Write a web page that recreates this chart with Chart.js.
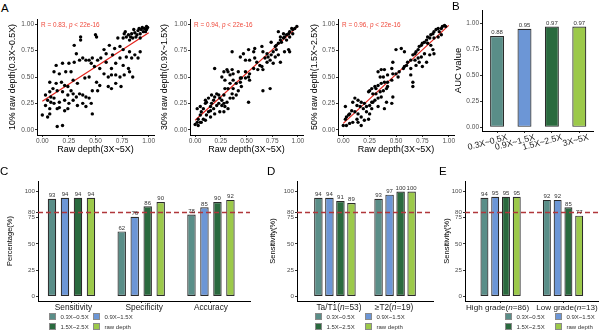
<!DOCTYPE html>
<html>
<head>
<meta charset="utf-8">
<script src="https://cdn.jsdelivr.net/npm/chart.js@4.4.1/dist/chart.umd.min.js"></script>
<style>
  body { margin: 0; background: #fff; }
  #fig { position: relative; width: 600px; height: 335px; overflow: hidden; font-family: 'Liberation Sans', Arial, sans-serif; }
  #fig canvas { position: absolute; }
  .tag { position: absolute; font-size: 11.5px; line-height: 12px; color: #000; }
  .key { position: absolute; display: flex; align-items: center; height: 7px; font-size: 6px; color: #333; white-space: nowrap; }
  .key i { display: inline-block; width: 7px; height: 7px; box-sizing: border-box; border: 0.6px solid #8a8a8a; margin-right: 4.5px; }
</style>
</head>
<body>
<div id="fig"></div>
<script>
const FONT = "'Liberation Sans', Arial, sans-serif";
Chart.defaults.font.family = FONT;

// A: subsampled depth vs raw depth (3X~5X), [raw, subsampled]
const depth10 = [
  [0.98,0.98],[0.96,0.96],[0.93,0.95],[0.90,0.94],[0.87,0.92],[0.84,0.91],[0.81,0.90],[0.77,0.91],
  [0.92,0.91],[0.95,0.93],[0.88,0.88],[0.85,0.87],[0.82,0.85],[0.92,0.87],[0.98,0.95],[0.79,0.88],
  [0.76,0.87],[0.71,0.87],[0.73,0.79],[0.68,0.77],[0.76,0.76],[0.82,0.74],[0.87,0.71],[0.90,0.68],
  [0.92,0.74],[0.84,0.68],[0.79,0.69],[0.63,0.80],[0.58,0.76],[0.60,0.72],[0.66,0.71],[0.73,0.68],
  [0.69,0.63],[0.76,0.61],[0.81,0.58],[0.65,0.58],[0.60,0.64],[0.55,0.68],[0.52,0.66],[0.47,0.68],
  [0.44,0.66],[0.41,0.66],[0.38,0.68],[0.35,0.66],[0.46,0.63],[0.49,0.60],[0.54,0.58],[0.58,0.53],
  [0.62,0.50],[0.65,0.52],[0.69,0.52],[0.73,0.50],[0.77,0.52],[0.82,0.55],[0.85,0.50],[0.30,0.80],
  [0.36,0.88],[0.36,0.85],[0.32,0.72],[0.30,0.64],[0.25,0.63],[0.19,0.63],[0.13,0.61],[0.11,0.55],
  [0.27,0.55],[0.22,0.55],[0.16,0.53],[0.29,0.47],[0.33,0.44],[0.40,0.49],[0.44,0.50],[0.51,0.45],
  [0.54,0.42],[0.52,0.37],[0.47,0.37],[0.62,0.41],[0.65,0.39],[0.74,0.41],[0.69,0.44],[0.07,0.45],
  [0.13,0.44],[0.18,0.45],[0.21,0.42],[0.24,0.41],[0.27,0.37],[0.29,0.34],[0.32,0.31],[0.35,0.34],
  [0.38,0.33],[0.41,0.31],[0.44,0.30],[0.24,0.33],[0.19,0.36],[0.14,0.37],[0.10,0.39],[0.07,0.36],
  [0.03,0.33],[0.05,0.28],[0.08,0.31],[0.11,0.30],[0.16,0.26],[0.21,0.28],[0.25,0.25],[0.29,0.28],
  [0.33,0.23],[0.38,0.25],[0.41,0.22],[0.46,0.25],[0.47,0.15],[0.08,0.26],[0.03,0.23],[0.07,0.20],
  [0.11,0.25],[0.14,0.20],[0.16,0.21],[0.21,0.18],[0.24,0.20],[0.07,0.15],[0.05,0.12],[0.00,0.14],
  [0.14,0.03],[0.19,0.04],[0.97,0.93],[0.99,0.97],[0.94,0.97],[0.89,0.90],[0.91,0.96],[0.86,0.95],
  [0.83,0.88],[0.78,0.93],[0.50,0.90],[0.51,0.88]
];
const depth30 = [
  [0.99,0.98],[0.97,0.96],[0.95,0.95],[0.92,0.93],[0.94,0.96],[0.91,0.91],[0.89,0.90],[0.87,0.88],
  [0.86,0.87],[0.83,0.85],[0.84,0.83],[0.81,0.82],[0.79,0.80],[0.89,0.85],[0.92,0.88],[0.95,0.91],
  [0.86,0.91],[0.83,0.88],[0.91,0.76],[0.87,0.74],[0.92,0.74],[0.79,0.76],[0.76,0.74],[0.74,0.71],
  [0.71,0.69],[0.68,0.68],[0.70,0.64],[0.73,0.66],[0.78,0.69],[0.81,0.71],[0.83,0.64],[0.76,0.63],
  [0.66,0.74],[0.65,0.79],[0.58,0.77],[0.52,0.76],[0.57,0.74],[0.47,0.72],[0.44,0.69],[0.49,0.66],
  [0.53,0.66],[0.60,0.64],[0.63,0.61],[0.65,0.60],[0.61,0.57],[0.57,0.58],[0.53,0.53],[0.52,0.50],
  [0.53,0.47],[0.49,0.49],[0.45,0.49],[0.44,0.45],[0.40,0.44],[0.37,0.47],[0.34,0.52],[0.32,0.55],
  [0.36,0.57],[0.37,0.53],[0.31,0.57],[0.28,0.55],[0.26,0.50],[0.29,0.47],[0.34,0.44],[0.37,0.39],
  [0.32,0.39],[0.29,0.39],[0.36,0.34],[0.42,0.37],[0.45,0.41],[0.37,0.30],[0.34,0.30],[0.31,0.26],
  [0.28,0.25],[0.26,0.28],[0.24,0.30],[0.23,0.33],[0.19,0.31],[0.18,0.28],[0.16,0.25],[0.15,0.22],
  [0.11,0.26],[0.10,0.25],[0.08,0.20],[0.06,0.17],[0.05,0.14],[0.03,0.10],[0.02,0.07],[0.00,0.05],
  [0.03,0.04],[0.05,0.07],[0.08,0.10],[0.11,0.14],[0.13,0.17],[0.15,0.18],[0.18,0.20],[0.21,0.23],
  [0.23,0.25],[0.26,0.23],[0.29,0.22],[0.32,0.20],[0.28,0.17],[0.24,0.17],[0.19,0.15],[0.15,0.12],
  [0.10,0.09],[0.06,0.07],[0.19,0.58],[0.36,0.74],[0.52,0.26],[0.66,0.37],[0.73,0.39],[0.02,0.20],
  [0.05,0.22],[0.10,0.28],[0.13,0.30],[0.16,0.33],[0.21,0.34],[0.28,0.33],[0.40,0.33],[0.44,0.49],
  [0.42,0.55],[0.49,0.55],[0.58,0.68],[0.66,0.57],[0.70,0.72],[0.78,0.79],[0.74,0.83],[0.81,0.93]
];
const depth50 = [
  [0.96,0.99],[0.97,0.98],[0.94,0.98],[0.93,0.96],[0.90,0.96],[0.88,0.95],[0.91,0.93],[0.86,0.93],
  [0.85,0.91],[0.83,0.90],[0.80,0.88],[0.82,0.87],[0.79,0.85],[0.77,0.83],[0.90,0.88],[0.93,0.90],
  [0.86,0.87],[0.75,0.82],[0.74,0.80],[0.72,0.79],[0.71,0.76],[0.69,0.74],[0.68,0.72],[0.66,0.71],
  [0.80,0.82],[0.83,0.80],[0.85,0.76],[0.86,0.72],[0.82,0.71],[0.77,0.72],[0.74,0.69],[0.71,0.68],
  [0.68,0.66],[0.64,0.66],[0.61,0.64],[0.60,0.61],[0.58,0.60],[0.64,0.58],[0.69,0.61],[0.72,0.64],
  [0.75,0.60],[0.79,0.64],[0.64,0.52],[0.66,0.45],[0.66,0.41],[0.50,0.76],[0.55,0.77],[0.58,0.74],
  [0.47,0.64],[0.46,0.58],[0.39,0.57],[0.36,0.57],[0.33,0.55],[0.35,0.50],[0.38,0.50],[0.42,0.52],
  [0.47,0.53],[0.50,0.53],[0.53,0.55],[0.57,0.58],[0.52,0.50],[0.46,0.47],[0.42,0.45],[0.39,0.45],
  [0.36,0.44],[0.33,0.42],[0.31,0.39],[0.30,0.41],[0.27,0.39],[0.25,0.37],[0.24,0.36],[0.28,0.34],
  [0.31,0.34],[0.35,0.36],[0.38,0.37],[0.41,0.39],[0.42,0.41],[0.36,0.31],[0.33,0.30],[0.30,0.28],
  [0.27,0.26],[0.25,0.23],[0.22,0.22],[0.20,0.25],[0.17,0.26],[0.14,0.28],[0.11,0.30],[0.09,0.26],
  [0.13,0.23],[0.16,0.22],[0.19,0.20],[0.22,0.17],[0.25,0.15],[0.27,0.20],[0.24,0.10],[0.20,0.09],
  [0.17,0.12],[0.14,0.15],[0.11,0.17],[0.08,0.18],[0.06,0.15],[0.05,0.14],[0.03,0.12],[0.02,0.10],
  [0.00,0.04],[0.03,0.04],[0.06,0.06],[0.09,0.07],[0.13,0.10],[0.14,0.07],[0.17,0.04],[0.02,0.22],
  [0.39,0.20],[0.33,0.22],[0.28,0.26],[0.47,0.31],[0.46,0.25],[0.41,0.26]
];
// fitted lm line, value at raw depth 0 and 1
const fit10 = [0.27, 0.92];
const fit30 = [0.09, 0.98];
const fit50 = [0.06, 0.99];
const corrR = ['0.83', '0.94', '0.96'];
const unitTicks = [0, 0.25, 0.5, 0.75, 1];

// B: AUC
const aucLabels = ['0.3X~0.5X', '0.9X~1.5X', '1.5X~2.5X', '3X~5X'];
const aucValues = [0.88, 0.95, 0.97, 0.97];
const aucTicks = [0, 0.25, 0.5, 0.75, 1];

// C-E: per depth series
const seriesNames = ['0.3X~0.5X', '0.9X~1.5X', '1.5X~2.5X', 'raw depth'];
const seriesColors = ['#5a8e88', '#6c96d6', '#2a6a3e', '#9cc94a'];
const pctTicks = [0, 25, 50, 75, 80, 100];
const cutoff = 80;

const metricLabels = ['Sensitivity', 'Specificity', 'Accuracy'];
const metricValues = [[93, 62, 78], [94, 76, 85], [94, 86, 90], [94, 90, 92]];

const stageLabels = ['Ta/T1', '≥T2'];
const stageN = [53, 19];
const stageValues = [[94, 93], [94, 97], [91, 100], [89, 100]];

const gradeLabels = ['High grade', 'Low grade'];
const gradeN = [86, 13];
const gradeValues = [[94, 92], [95, 92], [95, 85], [95, 77]];

const fig = document.getElementById('fig');

function addCanvas(left, top, width, height) {
  const c = document.createElement('canvas');
  c.width = width;
  c.height = height;
  c.style.left = left + 'px';
  c.style.top = top + 'px';
  fig.appendChild(c);
  return c;
}

function axisStyle(size) {
  return {
    offset: false,
    grid: { display: true, drawOnChartArea: false, drawTicks: true, tickLength: 2, offset: false, color: '#333', tickColor: '#333' },
    border: { display: true, color: '#000', width: 1 },
    ticks: { color: '#4d4d4d', font: { size: size }, padding: 1, autoSkip: false, maxRotation: 0 }
  };
}

// R label with italic p in the top-left corner of each scatter
const corrText = {
  id: 'corrText',
  afterDatasetsDraw(chart, args, o) {
    const { ctx, chartArea } = chart;
    const parts = [['R = ' + o.r + ', ', 'normal'], ['p', 'italic'], [' < 22e-16', 'normal']];
    let px = chartArea.left + 4;
    ctx.save();
    ctx.fillStyle = '#ef4a3c';
    ctx.textBaseline = 'middle';
    parts.forEach(([t, style]) => {
      ctx.font = style + ' 6.4px ' + FONT;
      ctx.fillText(t, px, chartArea.top + 6);
      px += ctx.measureText(t).width;
    });
    ctx.restore();
  }
};

function scatterPanel(box, points, fit, r, yTitle) {
  const canvas = addCanvas(box.left, box.top, box.width, box.height);
  const xs = axisStyle(6.5), ys = axisStyle(6.5);
  return new Chart(canvas, {
    type: 'scatter',
    data: {
      datasets: [
        { data: points.map(([x, y]) => ({ x, y })), backgroundColor: '#000', borderWidth: 0, pointRadius: 1.7 },
        { type: 'line', data: [{ x: 0, y: fit[0] }, { x: 1, y: fit[1] }], borderColor: '#e3231c', borderWidth: 1.2, pointRadius: 0 }
      ]
    },
    options: {
      responsive: false, animation: false, devicePixelRatio: 1,
      layout: { padding: { top: box.padTop, right: box.padRight, left: 0, bottom: 0 } },
      plugins: { legend: { display: false }, tooltip: { enabled: false }, corrText: { r } },
      scales: {
        x: {
          type: 'linear', min: -0.05, max: 1.05, ...xs,
          ticks: { ...xs.ticks, padding: 0, callback: v => v.toFixed(2) },
          afterBuildTicks: a => { a.ticks = unitTicks.map(v => ({ value: v })); },
          afterFit: s => { s.height = box.xh; },
          title: { display: true, text: 'Raw depth(3X~5X)', color: '#000', font: { size: 9 }, padding: { top: 0, bottom: 0.5 } }
        },
        y: {
          type: 'linear', min: -0.05, max: 1.05, ...ys,
          ticks: { ...ys.ticks, callback: v => v.toFixed(2) },
          afterBuildTicks: a => { a.ticks = unitTicks.map(v => ({ value: v })); },
          afterFit: s => { s.width = box.yw; },
          title: { display: true, text: yTitle, color: '#000', font: { size: 8.8 }, padding: { top: 7.7, bottom: 0 } }
        }
      }
    },
    plugins: [corrText]
  });
}

// cut-off line, value labels and category labels (with italic n) for the bar panels
const barDecor = {
  id: 'barDecor',
  afterDatasetsDraw(chart, args, o) {
    const { ctx, chartArea, scales: { x, y } } = chart;
    ctx.save();
    if (o.cutoff != null) {
      const py = y.getPixelForValue(o.cutoff);
      ctx.strokeStyle = '#b0373b';
      ctx.lineWidth = 1.3;
      ctx.setLineDash([5, 3]);
      ctx.beginPath();
      ctx.moveTo(chartArea.left, py);
      ctx.lineTo(chartArea.right, py);
      ctx.stroke();
      ctx.setLineDash([]);
    }
    ctx.font = o.valueSize + 'px ' + FONT;
    ctx.fillStyle = '#333';
    ctx.textAlign = 'center';
    ctx.textBaseline = 'bottom';
    chart.data.datasets.forEach((ds, i) => {
      chart.getDatasetMeta(i).data.forEach((bar, j) => {
        ctx.fillText(o.format(ds.data[j].y), bar.x, bar.y - 0.3);
      });
    });
    ctx.fillStyle = '#1a1a1a';
    o.cats.forEach((cat, i) => {
      const parts = o.n ? [[cat + '(', 'normal'], ['n', 'italic'], ['=' + o.n[i] + ')', 'normal']] : [[cat, 'normal']];
      let w = 0;
      parts.forEach(([t, st]) => { ctx.font = st + ' ' + o.catSize + 'px ' + FONT; w += ctx.measureText(t).width; });
      const cx = x.getPixelForValue(i + 1) + (o.dx ? o.dx[i] : 0);
      ctx.save();
      if (o.rotate) {
        ctx.translate(cx, x.top + o.dy);
        ctx.rotate(-o.rotate * Math.PI / 180);
        ctx.textBaseline = 'top';
        ctx.textAlign = 'left';
        let px = -w;
        parts.forEach(([t, st]) => { ctx.font = st + ' ' + o.catSize + 'px ' + FONT; ctx.fillText(t, px, 0); px += ctx.measureText(t).width; });
      } else {
        ctx.textBaseline = 'middle';
        ctx.textAlign = 'left';
        let px = cx - w / 2;
        parts.forEach(([t, st]) => { ctx.font = st + ' ' + o.catSize + 'px ' + FONT; ctx.fillText(t, px, x.top + o.dy); px += ctx.measureText(t).width; });
      }
      ctx.restore();
    });
    ctx.restore();
  }
};

function barPanel(box, cfg) {
  const canvas = addCanvas(box.left, box.top, box.width, box.height);
  const xs = axisStyle(cfg.tickSize), ys = axisStyle(cfg.tickSize);
  const datasets = cfg.series.map(s => ({
    data: s.values.map((v, i) => ({ x: i + 1, y: v })),
    backgroundColor: s.color,
    borderColor: '#2b2b2b',
    borderWidth: 1.2,
    borderSkipped: false,
    categoryPercentage: cfg.catPct,
    barPercentage: cfg.barPct
  }));
  return new Chart(canvas, {
    type: 'bar',
    data: { datasets },
    options: {
      responsive: false, animation: false, devicePixelRatio: 1,
      layout: { padding: { top: box.padTop, right: box.padRight, left: 0, bottom: 0 } },
      plugins: {
        legend: { display: false }, tooltip: { enabled: false },
        barDecor: { cutoff: cfg.cutoff, format: cfg.format, valueSize: 6, cats: cfg.cats, n: cfg.n, catSize: cfg.catSize, rotate: cfg.rotate, dx: cfg.dx, dy: cfg.dy }
      },
      scales: {
        x: {
          type: 'linear', min: cfg.xMin, max: cfg.xMax, ...xs,
          ticks: { ...xs.ticks, display: false },
          afterBuildTicks: a => { a.ticks = cfg.cats.map((c, i) => ({ value: i + 1 })); },
          afterFit: s => { s.height = box.xh; }
        },
        y: {
          type: 'linear', min: cfg.yMin, max: cfg.yMax, ...ys,
          ticks: { ...ys.ticks, callback: cfg.tickFormat },
          afterBuildTicks: a => { a.ticks = cfg.yTicks.map(v => ({ value: v })); },
          afterFit: s => { s.width = box.yw; },
          title: { display: true, text: cfg.yTitle, color: '#000', font: { size: cfg.titleSize }, padding: { top: cfg.titlePad, bottom: 0 } }
        }
      }
    },
    plugins: [barDecor]
  });
}

function depthSeries(values) {
  return seriesNames.map((name, i) => ({ label: name, color: seriesColors[i], values: values[i] }));
}

function legendBlock(x1, x2, top) {
  seriesNames.forEach((name, i) => {
    const el = document.createElement('div');
    el.className = 'key';
    el.style.left = (i % 2 ? x2 : x1) + 'px';
    el.style.top = (top + Math.floor(i / 2) * 10) + 'px';
    el.innerHTML = '<i style="background:' + seriesColors[i] + '"></i>' + name;
    fig.appendChild(el);
  });
}

function tag(text, left, top) {
  const el = document.createElement('div');
  el.className = 'tag';
  el.textContent = text;
  el.style.left = left + 'px';
  el.style.top = top + 'px';
  fig.appendChild(el);
}

// A
scatterPanel({ left: 0, top: 14, width: 162, height: 141, padTop: 5, padRight: 8, yw: 37, xh: 20 },
  depth10, fit10, corrR[0], '10% raw depth(0.3X~0.5X)');
scatterPanel({ left: 152, top: 14, width: 159, height: 141, padTop: 5, padRight: 8, yw: 38, xh: 20 },
  depth30, fit30, corrR[1], '30% raw depth(0.9X~1.5X)');
scatterPanel({ left: 302, top: 14, width: 160, height: 141, padTop: 5, padRight: 8, yw: 36, xh: 20 },
  depth50, fit50, corrR[2], '50% raw depth(1.5X~2.5X)');

// B
barPanel({ left: 448, top: 5, width: 152, height: 150, padTop: 5, padRight: 7, yw: 34, xh: 24 }, {
  series: [{ label: 'AUC', color: seriesColors, values: aucValues }],
  cats: aucLabels, catSize: 8.7, rotate: 15, dx: [9, 9, 9, 8], dy: 2,
  xMin: 0.45, xMax: 4.5, catPct: 1, barPct: 0.51,
  yMin: -0.035, yMax: 1.13, yTicks: aucTicks, tickFormat: v => v.toFixed(2), tickSize: 6.5,
  yTitle: 'AUC value', titleSize: 9.5, titlePad: 4.3,
  format: v => v.toFixed(2)
});

// C
barPanel({ left: 0, top: 176, width: 254, height: 138, padTop: 5, padRight: 4, yw: 38, xh: 13 }, {
  series: depthSeries(metricValues), cats: metricLabels, catSize: 8.3, dy: 6.5, dx: [2, 3, 0],
  xMin: 0.52, xMax: 3.56, catPct: 0.745, barPct: 0.65,
  yMin: -4.3, yMax: 110, yTicks: pctTicks, tickFormat: v => v, tickSize: 6.2,
  yTitle: 'Percentage(%)', titleSize: 7.5, titlePad: 5.5,
  cutoff: cutoff, format: v => String(v)
});

// D
barPanel({ left: 263, top: 176, width: 174, height: 138, padTop: 5, padRight: 4, yw: 34, xh: 13 }, {
  series: depthSeries(stageValues), cats: stageLabels, n: stageN, catSize: 8.3, dy: 6.5, dx: [4, -1],
  xMin: 0.37, xMax: 2.63, catPct: 0.733, barPct: 0.77,
  yMin: -4.3, yMax: 110, yTicks: pctTicks, tickFormat: v => v, tickSize: 6.2,
  yTitle: 'Sensitivity(%)', titleSize: 7.5, titlePad: 5.5,
  cutoff: cutoff, format: v => String(v)
});

// E
barPanel({ left: 437, top: 176, width: 163, height: 138, padTop: 5, padRight: 2, yw: 28, xh: 13 }, {
  series: depthSeries(gradeValues), cats: gradeLabels, n: gradeN, catSize: 8.1, dy: 6.5, dx: [-3, 4],
  xMin: 0.43, xMax: 2.56, catPct: 0.69, barPct: 0.74,
  yMin: -4.3, yMax: 110, yTicks: pctTicks, tickFormat: v => v, tickSize: 6.2,
  yTitle: 'Sensitivity(%)', titleSize: 7.5, titlePad: 5.5,
  cutoff: cutoff, format: v => String(v)
});

legendBlock(49, 93, 313);
legendBlock(315, 365, 313);
legendBlock(505, 555, 313);

tag('A', 1, 2);
tag('B', 452, 0);
tag('C', 0, 165);
tag('D', 267, 165);
tag('E', 439, 165);
</script>
</body>
</html>
